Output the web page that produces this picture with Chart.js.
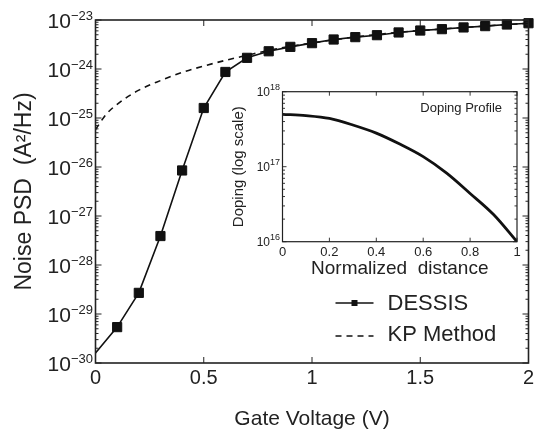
<!DOCTYPE html>
<html><head><meta charset="utf-8">
<script src="https://cdn.jsdelivr.net/npm/chart.js@4.4.1/dist/chart.umd.min.js"></script>
<style>
html,body{margin:0;padding:0;background:#fff;}
#wrap{position:relative;width:536px;height:429px;overflow:hidden;}
#main{position:absolute;left:0;top:0;}
#inset{position:absolute;left:230px;top:70px;}
</style></head><body>
<div id="wrap"><canvas id="main" width="536" height="429"></canvas><canvas id="inset" width="300" height="220"></canvas></div>
<script>
// ---- data ----
const gateVoltage = [0,0.1,0.2,0.3,0.4,0.5,0.6,0.7,0.8,0.9,1.0,1.1,1.2,1.3,1.4,1.5,1.6,1.7,1.8,1.9,2.0];
const dessisPSD = [1.6e-30,5.4e-30,2.7e-29,3.9e-28,8.5e-27,1.6e-25,8.7e-25,1.69e-24,2.3e-24,2.83e-24,3.37e-24,4.0e-24,4.47e-24,4.9e-24,5.57e-24,6.1e-24,6.5e-24,7.05e-24,7.5e-24,8.1e-24,8.6e-24];
const kpVoltage = [0,0.05,0.1,0.2,0.3,0.4,0.5,0.6,0.7,0.8,0.9,1.0,1.2,1.4,1.6,1.8,2.0];
const kpPSD = [5.8e-26,1.2e-25,1.9e-25,3.7e-25,5.8e-25,8.5e-25,1.15e-24,1.5e-24,1.9e-24,2.4e-24,2.9e-24,3.4e-24,4.5e-24,5.6e-24,6.55e-24,7.55e-24,8.6e-24];
const xTickValues = [0,0.5,1,1.5,2];
const yDecades = [-30,-29,-28,-27,-26,-25,-24,-23];
const insetDistance = [0,0.1,0.2,0.3,0.4,0.5,0.6,0.7,0.8,0.9,1.0];
const insetDoping = [5.0e17,4.8e17,4.4e17,3.6e17,2.8e17,2.0e17,1.36e17,8.2e16,4.4e16,2.3e16,1.0e16];
const insetXTickValues = [0,0.2,0.4,0.6,0.8,1];
const insetDecades = [16,17,18];
const labels = {x:'Gate Voltage (V)', y:'Noise PSD  (A\u00B2/Hz)', insetX:'Normalized  distance', insetY:'Doping (log scale)', insetTitle:'Doping Profile'};

// ---- style ----
const FONT = '"Liberation Sans", Arial, Helvetica, sans-serif';
const INK = '#222';
Chart.defaults.font.family = FONT;
Chart.defaults.color = INK;

function logTicks(ctx, scale, a, decades, majorLen, minorLen) {
  for (let i = 0; i < decades.length; i++) {
    const d = decades[i];
    for (let m = 1; m < 10; m++) {
      if (i === decades.length - 1 && m > 1) break;
      const py = scale.getPixelForValue(m * Math.pow(10, d));
      const len = m === 1 ? majorLen : minorLen;
      ctx.beginPath();
      ctx.moveTo(a.left, py); ctx.lineTo(a.left + len, py);
      ctx.moveTo(a.right, py); ctx.lineTo(a.right - len, py);
      ctx.stroke();
    }
  }
}
function linTicks(ctx, scale, a, values, len) {
  values.forEach(v => {
    const px = scale.getPixelForValue(v);
    ctx.beginPath();
    ctx.moveTo(px, a.bottom); ctx.lineTo(px, a.bottom - len);
    ctx.moveTo(px, a.top); ctx.lineTo(px, a.top + len);
    ctx.stroke();
  });
}
function powLabels(ctx, scale, a, decades, baseSize, expSize, gap, baseDy, expDy) {
  ctx.fillStyle = INK;
  ctx.textAlign = 'right';
  ctx.textBaseline = 'alphabetic';
  decades.forEach(d => {
    const py = scale.getPixelForValue(Math.pow(10, d));
    const exp = (d < 0 ? '\u2212' : '') + Math.abs(d);
    ctx.font = expSize + 'px ' + FONT;
    const ew = ctx.measureText(exp).width;
    ctx.fillText(exp, a.left - gap, py + expDy);
    ctx.font = baseSize + 'px ' + FONT;
    ctx.fillText('10', a.left - gap - ew, py + baseDy);
  });
}
const plainNum = v => String(Math.round(v * 100) / 100);

const mainDecor = {
  id: 'mainDecor',
  afterDraw(chart) {
    const {ctx, chartArea: a, scales: {x, y}} = chart;
    ctx.save();
    ctx.strokeStyle = INK;
    ctx.lineWidth = 1.6;
    ctx.strokeRect(a.left, a.top, a.right - a.left, a.bottom - a.top);
    ctx.lineWidth = 1;
    logTicks(ctx, y, a, yDecades, 6, 3);
    linTicks(ctx, x, a, xTickValues, 6);
    powLabels(ctx, y, a, yDecades, 21, 13, 2.5, 7.5, -0.5);
    // legend
    const ds = chart.data.datasets;
    const rows = [a.bottom - 60, a.bottom - 27];
    const lx0 = a.right - 193, lx1 = a.right - 155, tx = a.right - 141;
    ds.forEach((d, i) => {
      const ly = rows[i];
      ctx.strokeStyle = d.borderColor;
      ctx.lineWidth = d.borderWidth;
      ctx.setLineDash(d.borderDash || []);
      ctx.beginPath(); ctx.moveTo(lx0, ly); ctx.lineTo(lx1, ly); ctx.stroke();
      ctx.setLineDash([]);
      if (d.pointStyle === 'rect') {
        ctx.fillStyle = d.pointBackgroundColor;
        ctx.fillRect((lx0 + lx1) / 2 - 3, ly - 3, 6, 6);
      }
      ctx.fillStyle = INK;
      ctx.font = '22px ' + FONT;
      ctx.textAlign = 'left';
      ctx.textBaseline = 'middle';
      ctx.fillText(d.label, tx, ly + (i === 0 ? 0.5 : -1));
    });
    ctx.restore();
  }
};

new Chart(document.getElementById('main'), {
  type: 'line',
  data: {
    datasets: [
      {
        label: 'DESSIS',
        data: gateVoltage.map((v, i) => ({x: v, y: dessisPSD[i]})),
        borderColor: '#111', backgroundColor: '#111', borderWidth: 1.6,
        pointStyle: 'rect', pointRadius: c => c.dataIndex === 0 ? 0 : 6.5,
        pointBorderWidth: 1, pointBackgroundColor: '#111', pointBorderColor: '#111',
        tension: 0, fill: false, clip: false
      },
      {
        label: 'KP Method',
        data: kpVoltage.map((v, i) => ({x: v, y: kpPSD[i]})),
        borderColor: '#111', borderWidth: 1.6, borderDash: [6, 5],
        pointRadius: 0, cubicInterpolationMode: 'monotone', fill: false, clip: false
      }
    ]
  },
  options: {
    responsive: false, animation: false, devicePixelRatio: 1,
    layout: {padding: {top: 20, right: 5, left: 0, bottom: 0}},
    plugins: {legend: {display: false}, tooltip: {enabled: false}},
    scales: {
      x: {
        type: 'linear', min: 0, max: 2,
        ticks: {stepSize: 0.5, font: {size: 20}, color: INK, padding: 3, maxRotation: 0, autoSkip: false, callback: plainNum},
        grid: {display: false, drawTicks: false}, border: {display: false},
        title: {display: true, text: labels.x, font: {size: 21}, color: INK, padding: {top: 0, bottom: -3}},
        afterFit: s => { s.height = 66; s.paddingLeft = 0; s.paddingRight = 0; }
      },
      y: {
        type: 'logarithmic', min: 1e-30, max: 1e-23,
        ticks: {display: false},
        grid: {display: false, drawTicks: false}, border: {display: false},
        title: {display: true, text: labels.y, font: {size: 23}, color: INK, padding: {top: 11, bottom: 0}},
        afterFit: s => { s.width = 95.5; }
      }
    }
  },
  plugins: [mainDecor]
});

const insetDecor = {
  id: 'insetDecor',
  beforeDatasetsDraw(chart) {
    const {ctx, chartArea: a} = chart;
    ctx.save();
    ctx.fillStyle = '#fff';
    ctx.fillRect(a.left, a.top, a.right - a.left, a.bottom - a.top);
    ctx.restore();
  },
  afterDraw(chart) {
    const {ctx, chartArea: a, scales: {x, y}} = chart;
    ctx.save();
    ctx.strokeStyle = INK;
    ctx.lineWidth = 1.2;
    ctx.strokeRect(a.left, a.top, a.right - a.left, a.bottom - a.top);
    ctx.lineWidth = 0.9;
    logTicks(ctx, y, a, insetDecades, 4, 2.5);
    linTicks(ctx, x, a, insetXTickValues, 4);
    powLabels(ctx, y, a, insetDecades, 12, 9, 2.5, 4.5, -1.5);
    ctx.fillStyle = INK;
    ctx.font = '13px ' + FONT;
    ctx.textAlign = 'right';
    ctx.textBaseline = 'middle';
    ctx.fillText(labels.insetTitle, a.right - 15, a.top + 16.6);
    ctx.restore();
  }
};

new Chart(document.getElementById('inset'), {
  type: 'line',
  data: {
    datasets: [{
      label: 'Doping',
      data: insetDistance.map((v, i) => ({x: v, y: insetDoping[i]})),
      borderColor: '#111', borderWidth: 2.8, pointRadius: 0,
      cubicInterpolationMode: 'monotone', fill: false
    }]
  },
  options: {
    responsive: false, animation: false, devicePixelRatio: 1,
    layout: {padding: {top: 21.7, right: 13, left: 0, bottom: 0}},
    plugins: {legend: {display: false}, tooltip: {enabled: false}},
    scales: {
      x: {
        type: 'linear', min: 0, max: 1,
        ticks: {stepSize: 0.2, font: {size: 13}, color: INK, padding: 3, maxRotation: 0, autoSkip: false, callback: plainNum},
        grid: {display: false, drawTicks: false}, border: {display: false},
        title: {display: true, text: labels.insetX, font: {size: 19}, color: INK, padding: {top: 0, bottom: 10}},
        afterFit: s => { s.height = 48.3; s.paddingLeft = 0; s.paddingRight = 0; }
      },
      y: {
        type: 'logarithmic', min: 1e16, max: 1e18,
        ticks: {display: false},
        grid: {display: false, drawTicks: false}, border: {display: false},
        title: {display: true, text: labels.insetY, font: {size: 15}, color: INK, padding: {top: 0, bottom: 0}},
        afterFit: s => { s.width = 52.5; }
      }
    }
  },
  plugins: [insetDecor]
});
</script>
</body></html>
